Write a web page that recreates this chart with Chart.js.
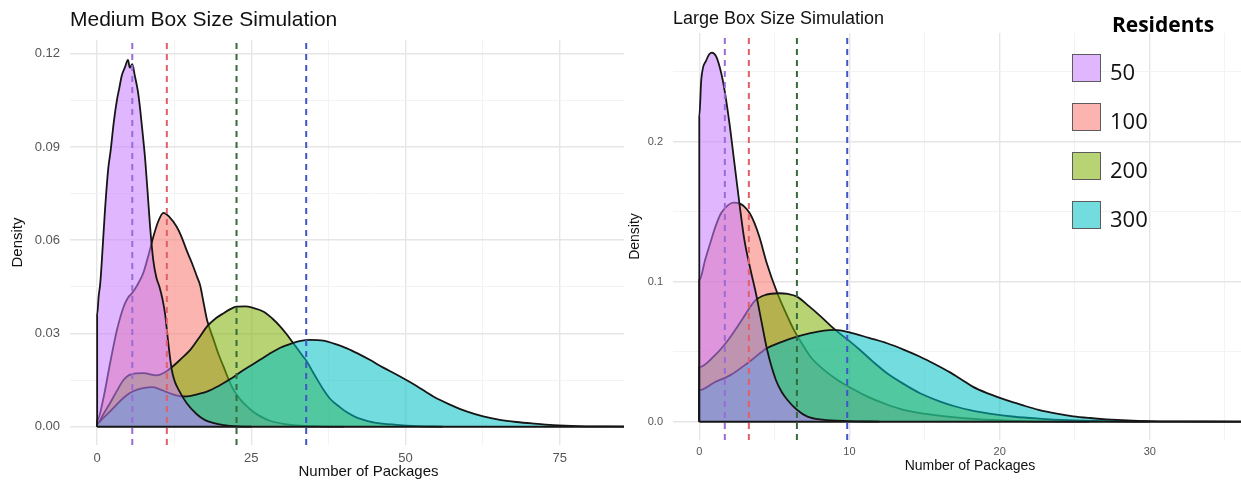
<!DOCTYPE html>
<html>
<head>
<meta charset="utf-8">
<title>Box Size Simulation</title>
<script src="https://cdn.jsdelivr.net/npm/chart.js@4.4.1/dist/chart.umd.min.js"></script>
<style>
  html, body { margin: 0; padding: 0; background: #fff; overflow: hidden; }
  #wrap { position: relative; width: 1241px; height: 489px; overflow: hidden; }
  .panel { position: absolute; top: 0; height: 489px; background: #fff; }
  #mediumPanel { left: 0; width: 672px; }
  #largePanel { left: 624px; width: 651px; }
</style>
</head>
<body>
<div id="wrap">
  <div class="panel" id="mediumPanel"><canvas id="mediumChart"></canvas></div>
  <div class="panel" id="largePanel"><canvas id="largeChart"></canvas></div>
</div>
<script>
const residents = ['50', '100', '200', '300'];
const fills = ['rgba(199,124,255,0.55)', 'rgba(248,118,109,0.55)', 'rgba(124,174,0,0.55)', 'rgba(0,191,196,0.55)'];
const meanColors = ['#9a6bd8', '#e0606a', '#356b3c', '#3f55c8'];

// Medium box: density of number of packages, [packages, density]
const medium50 = [[0,0],[0,0.036],[0.25,0.042],[0.5,0.046],[0.75,0.053],[1.25,0.069],[1.8,0.083],[2.2,0.089],[2.7,0.098],[3.2,0.105],[3.6,0.109],[4.0,0.113],[4.5,0.1156],[5.0,0.118],[5.3,0.1155],[5.7,0.1166],[6.1,0.113],[6.6,0.108],[7.0,0.1017],[7.4,0.094],[7.8,0.0857],[8.2,0.075],[8.6,0.064],[9.1,0.0536],[9.6,0.048],[10.1,0.045],[10.6,0.041],[11.0,0.0365],[11.6,0.0258],[12.1,0.0183],[12.6,0.0145],[13.2,0.0119],[14.5,0.0076],[16.2,0.0039],[17.5,0.0021],[18.8,0.0012],[20.5,0.0005],[23,0.0001],[25,0]];
const medium100 = [[0,0],[0,0.002],[1,0.009],[2.1,0.0204],[3.2,0.031],[4.3,0.0386],[5.0,0.0415],[5.6,0.0428],[6.5,0.0455],[7.5,0.0495],[8.3,0.055],[9.1,0.061],[9.9,0.066],[10.75,0.0688],[11.7,0.0675],[12.9,0.0643],[13.7,0.061],[14.5,0.0568],[15.4,0.0525],[16.2,0.0482],[16.7,0.0455],[17.2,0.0405],[17.8,0.0345],[18.9,0.0279],[19.7,0.0232],[20.5,0.0193],[21.3,0.0153],[22.1,0.0119],[23.2,0.0088],[24.3,0.0065],[25.3,0.0048],[26.4,0.0034],[28,0.0019],[30.2,0.0009],[33,0.0003],[36,0.0001],[40,0]];
const medium200 = [[0,0],[0,0.001],[1,0.004],[2.1,0.0076],[3.2,0.0115],[4.3,0.0151],[5.6,0.0169],[7.5,0.0172],[9.7,0.0165],[11,0.0175],[12.1,0.0191],[13.6,0.0218],[15.1,0.0247],[16.5,0.0285],[17.8,0.0322],[19.2,0.0348],[20.5,0.0365],[21.6,0.0378],[22.6,0.0386],[24.0,0.0387],[25.3,0.0382],[27.0,0.037],[28.4,0.0348],[29.7,0.0322],[30.7,0.0298],[31.6,0.0274],[32.5,0.025],[33.4,0.0226],[34.0,0.021],[35.0,0.0175],[35.8,0.0148],[36.7,0.0119],[37.8,0.0089],[39.4,0.0062],[40.5,0.0046],[42,0.003],[43.2,0.0022],[45,0.0013],[48.6,0.0006],[52,0.0002],[56,0]];
const medium300 = [[0,0],[0,0.001],[1,0.0028],[2.1,0.0049],[3.2,0.0072],[4.3,0.0093],[5.3,0.0108],[6.5,0.0119],[7.7,0.0125],[8.9,0.0127],[10.1,0.0121],[11.2,0.0112],[12.4,0.0103],[13.2,0.0099],[14.0,0.0097],[15,0.0098],[16.2,0.0104],[17.8,0.0113],[19.7,0.0131],[21.6,0.0153],[23.2,0.0175],[24.8,0.0195],[26.4,0.0215],[27.9,0.0234],[29.7,0.0254],[31.6,0.0268],[33,0.0276],[34.5,0.0279],[36.7,0.0277],[38.4,0.0267],[40.5,0.0252],[42.3,0.0235],[44.2,0.0215],[46.4,0.019],[48.6,0.0167],[51.8,0.0131],[54.5,0.0097],[57.2,0.0071],[59.9,0.0049],[62.6,0.0033],[65.3,0.0022],[68,0.0015],[70.7,0.001],[74,0.0005],[78,0.0002],[83,0.0001],[88,0]];
const mediumMeans = [5.7, 11.3, 22.6, 33.9];

// Large box
const large50 = [[0,0],[0,0.218],[0.13,0.244],[0.46,0.258],[0.84,0.2636],[1.13,0.2607],[1.46,0.249],[1.68,0.237],[2.01,0.213],[2.34,0.1846],[2.67,0.156],[3.0,0.13],[3.4,0.109],[3.77,0.0917],[4.15,0.071],[4.52,0.0512],[5.1,0.0298],[5.5,0.021],[5.87,0.0155],[6.5,0.0085],[7.2,0.0036],[8.2,0.0014],[9.9,0.0004],[12,0]];
const large100 = [[0,0],[0,0.101],[0.4,0.116],[0.8,0.13],[1.1,0.14],[1.46,0.149],[1.9,0.1545],[2.3,0.1564],[2.7,0.1557],[3.0,0.1536],[3.35,0.149],[3.67,0.142],[4.0,0.132],[4.5,0.113],[5.2,0.0917],[5.75,0.078],[6.3,0.0655],[6.85,0.0555],[7.4,0.0464],[8.3,0.037],[9.2,0.0298],[10.2,0.0235],[11.2,0.0179],[12.4,0.0126],[13.6,0.0084],[15.1,0.0055],[16.7,0.0034],[18.5,0.0018],[20.5,0.0008],[23,0.0002],[26,0]];
const large200 = [[0,0],[0,0.039],[1,0.047],[1.9,0.058],[2.8,0.072],[3.67,0.086],[4.4,0.0905],[5.3,0.0917],[5.9,0.0912],[6.5,0.0893],[7.3,0.0825],[8.1,0.075],[8.7,0.069],[9.2,0.0643],[10,0.0575],[10.7,0.0512],[11.6,0.0425],[12.5,0.0346],[13.6,0.027],[14.7,0.0203],[16,0.0145],[17,0.011],[18.1,0.008],[19.3,0.0058],[21,0.0035],[22.6,0.0022],[24.5,0.0011],[27,0.0004],[30,0]];
const large300 = [[0,0],[0,0.0226],[1,0.028],[2.1,0.0334],[3.3,0.0425],[4.5,0.0524],[5.5,0.057],[6.5,0.0607],[7.4,0.0632],[8.3,0.065],[9.0,0.0655],[10.1,0.0635],[11.3,0.0598],[12.5,0.056],[13.6,0.0515],[14.7,0.0464],[15.7,0.041],[16.7,0.0352],[17.5,0.0298],[18.2,0.025],[19.3,0.0198],[20.4,0.0155],[21.5,0.0118],[22.6,0.0084],[23.8,0.0057],[24.9,0.0038],[26,0.0026],[27.1,0.0017],[28.5,0.0009],[30,0.0004],[32,0.0002],[34,0.0001],[37,0]];
const largeMeans = [1.7, 3.3, 6.5, 9.85];

// tick labels (major gridlines); minor lines go half way between them
const mediumXTicks = [0, 25, 50, 75];
const mediumYTicks = [0, 0.03, 0.06, 0.09, 0.12];
const largeXTicks = [0, 10, 20, 30];
const largeYTicks = [0, 0.1, 0.2];

const mediumXRange = [-4.4, 92.4];
const mediumYRange = [-0.0059, 0.1244];
const largeXRange = [-1.75, 37.8];
const largeYRange = [-0.0131, 0.2776];

Chart.defaults.font.family = "'Liberation Sans', Arial, sans-serif";
Chart.defaults.animation = false;

function isMajor(majors, v) {
  return majors.some((m) => Math.abs(m - v) < 1e-9);
}

function gridTicks(majors, range) {
  const step = majors[1] - majors[0];
  const out = [];
  for (let v = majors[0] - step; v <= range[1] + 1e-9; v += step / 2) {
    if (v >= range[0] - 1e-9) out.push({ value: +v.toFixed(6) });
  }
  return out;
}

function gridScale(majors, range, fmt, size) {
  return {
    type: 'linear',
    min: range[0],
    max: range[1],
    afterBuildTicks: (axis) => { axis.ticks = gridTicks(majors, range); },
    ticks: {
      autoSkip: false,
      maxRotation: 0,
      color: '#555',
      font: { size: size },
      callback: (v) => (isMajor(majors, v) ? fmt(v) : ''),
    },
    grid: {
      drawTicks: false,
      color: (c) => (c.tick && isMajor(majors, c.tick.value) ? '#e6e6e6' : '#f3f3f3'),
      lineWidth: (c) => (c.tick && isMajor(majors, c.tick.value) ? 1.4 : 1),
    },
    border: { display: false },
  };
}

function densityDatasets(series, means, yRange) {
  // 50 on top, then 300, 200, 100
  const drawOrder = [2, 5, 4, 3];
  const sets = series.map((data, i) => ({
    label: residents[i],
    data: data,
    backgroundColor: fills[i],
    borderColor: '#161616',
    borderWidth: 1.8,
    fill: 'origin',
    cubicInterpolationMode: 'monotone',
    pointRadius: 0,
    order: drawOrder[i],
  }));
  const end = Math.max(...series.map((s) => s[s.length - 1][0]));
  sets.push({
    label: 'baseline',
    data: [[0, 0], [end, 0]],
    borderColor: '#161616',
    borderWidth: 2,
    pointRadius: 0,
    fill: false,
    order: 1,
  });
  means.forEach((m, i) => {
    sets.push({
      label: 'mean ' + residents[i],
      data: [[m, yRange[0]], [m, yRange[1]]],
      borderColor: meanColors[i],
      borderWidth: 2,
      borderDash: [6, 5],
      pointRadius: 0,
      fill: false,
      order: 0,
    });
  });
  return sets;
}

const residentsLegend = {
  id: 'residentsLegend',
  afterDraw(chart) {
    const ctx = chart.ctx;
    ctx.save();
    ctx.fillStyle = '#000';
    ctx.font = "bold 21px 'Open Sans'";
    ctx.textAlign = 'center';
    ctx.textBaseline = 'alphabetic';
    ctx.fillText('Residents', 539, 32);
    ctx.font = "22px 'Open Sans'";
    ctx.textAlign = 'left';
    residents.forEach((r, i) => {
      const top = 54 + 49 * i;
      ctx.fillStyle = '#fff';
      ctx.fillRect(448, top, 28, 27);
      ctx.fillStyle = fills[i];
      ctx.fillRect(448, top, 28, 27);
      ctx.strokeStyle = '#5c5c5c';
      ctx.lineWidth = 1;
      ctx.strokeRect(448.5, top + 0.5, 28, 27);
      ctx.fillStyle = '#111';
      ctx.fillText(r, 486, top + 26);
    });
    ctx.restore();
  },
};

const mediumX = gridScale(mediumXTicks, mediumXRange, (v) => String(v), 13);
mediumX.ticks.padding = 6;
mediumX.afterFit = (s) => { s.height = 44; };
mediumX.title = { display: true, text: 'Number of Packages', color: '#111', font: { size: 15 }, padding: { top: 0, bottom: 8 } };

const mediumY = gridScale(mediumYTicks, mediumYRange, (v) => v.toFixed(2), 13);
mediumY.ticks.padding = 10;
mediumY.afterFit = (s) => { s.width = 70; };
mediumY.title = { display: true, text: 'Density', color: '#111', font: { size: 15 }, padding: { top: 9, bottom: 0 } };

new Chart(document.getElementById('mediumChart'), {
  type: 'line',
  data: { datasets: densityDatasets([medium50, medium100, medium200, medium300], mediumMeans, mediumYRange) },
  options: {
    responsive: true,
    maintainAspectRatio: false,
    devicePixelRatio: 1,
    layout: { padding: { left: 0, right: 5, top: 0, bottom: 0 } },
    plugins: {
      legend: { display: false },
      tooltip: { enabled: false },
      title: {
        display: true,
        text: 'Medium Box Size Simulation',
        align: 'start',
        fullSize: false,
        color: '#111',
        font: { size: 21, weight: 'normal' },
        padding: { top: 8, bottom: 6.8 },
      },
    },
    scales: { x: mediumX, y: mediumY },
  },
});

const largeX = gridScale(largeXTicks, largeXRange, (v) => String(v), 11);
largeX.ticks.padding = 5;
largeX.afterFit = (s) => { s.height = 49; };
largeX.title = { display: true, text: 'Number of Packages', color: '#111', font: { size: 14 }, padding: { top: 0, bottom: 14.6 } };

const largeY = gridScale(largeYTicks, largeYRange, (v) => v.toFixed(1), 11);
largeY.ticks.padding = 10;
largeY.afterFit = (s) => { s.width = 49; };
largeY.title = { display: true, text: 'Density', color: '#111', font: { size: 14 }, padding: { top: 2.6, bottom: 0 } };

new Chart(document.getElementById('largeChart'), {
  type: 'line',
  data: { datasets: densityDatasets([large50, large100, large200, large300], largeMeans, largeYRange) },
  options: {
    responsive: true,
    maintainAspectRatio: false,
    devicePixelRatio: 1,
    layout: { padding: { left: 0, right: 8, top: 0, bottom: 0 } },
    plugins: {
      legend: { display: false },
      tooltip: { enabled: false },
      title: {
        display: true,
        text: 'Large Box Size Simulation',
        align: 'start',
        fullSize: false,
        color: '#111',
        font: { size: 18, weight: 'normal' },
        padding: { top: 8, bottom: 3.4 },
      },
    },
    scales: { x: largeX, y: largeY },
  },
  plugins: [residentsLegend],
});
</script>
</body>
</html>
